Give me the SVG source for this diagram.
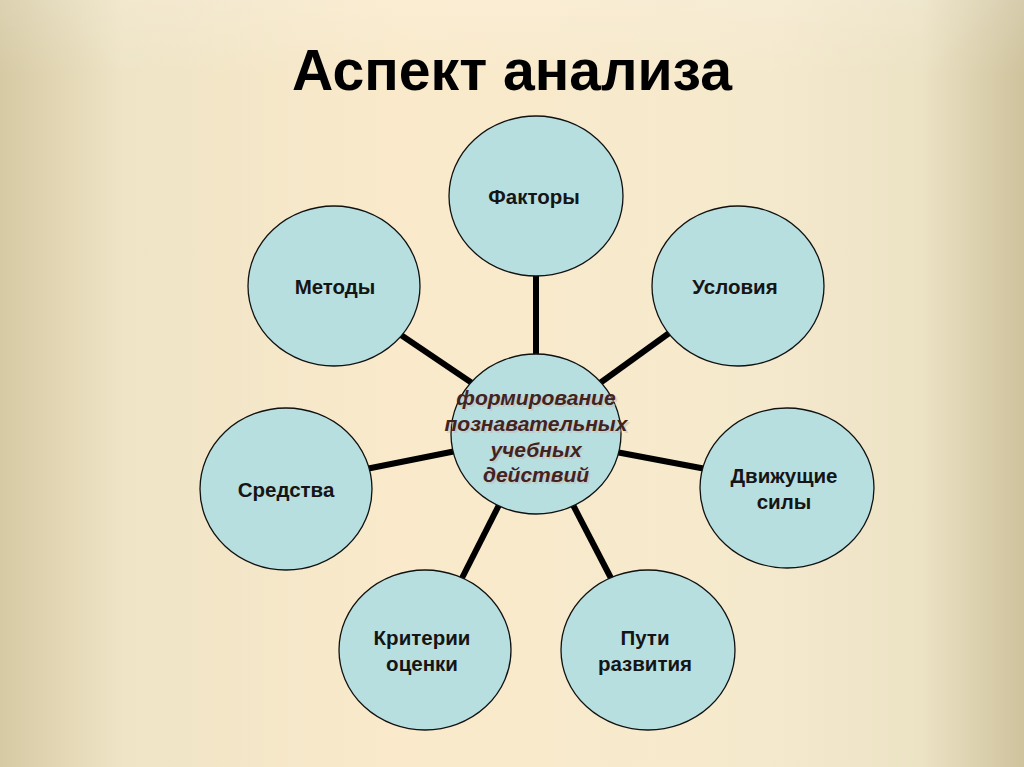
<svg xmlns="http://www.w3.org/2000/svg" width="1024" height="767" viewBox="0 0 1024 767">
<defs>
<linearGradient id="bg" x1="0" y1="0" x2="1" y2="0">
<stop offset="0" stop-color="#d6caa4"/>
<stop offset="0.12" stop-color="#efe4c6"/>
<stop offset="0.4" stop-color="#faeacb"/>
<stop offset="0.75" stop-color="#f5e9cd"/>
<stop offset="0.9" stop-color="#ece2c4"/>
<stop offset="1" stop-color="#cfc39d"/>
</linearGradient>
<linearGradient id="bgv" x1="0" y1="0" x2="0" y2="1">
<stop offset="0" stop-color="#ffffff" stop-opacity="0.15"/>
<stop offset="0.1" stop-color="#ffffff" stop-opacity="0"/>
</linearGradient>
</defs>
<style>
.n{fill:#b8dfe0;stroke:#111;stroke-width:1.3}
.t{font-family:"Liberation Sans",Arial,sans-serif;font-weight:bold;font-size:20.5px;fill:#151515;text-anchor:middle}
.c{font-family:"Liberation Sans",Arial,sans-serif;font-weight:bold;font-style:italic;font-size:21px;fill:#432322;text-anchor:middle}
.cs{font-family:"Liberation Sans",Arial,sans-serif;font-weight:bold;font-style:italic;font-size:21px;fill:#c8b8b0;text-anchor:middle;opacity:0.5}
.e{stroke:#000;stroke-width:6;fill:none}
</style>
<rect width="1024" height="767" fill="url(#bg)"/>
<rect width="1024" height="767" fill="url(#bgv)"/>
<text x="512" y="90" font-family="Liberation Sans,Arial,sans-serif" font-weight="bold" font-size="58" text-anchor="middle" textLength="440" lengthAdjust="spacingAndGlyphs" fill="#000">Аспект анализа</text>
<g id="connectors">
<line class="e" x1="536" y1="270" x2="536" y2="360"/>
<line class="e" x1="672" y1="331" x2="600" y2="383"/>
<line class="e" x1="398" y1="333" x2="472" y2="383"/>
<line class="e" x1="366" y1="469" x2="456" y2="451"/>
<line class="e" x1="616" y1="452" x2="706" y2="469"/>
<line class="e" x1="460" y1="582" x2="500" y2="503"/>
<line class="e" x1="613" y1="582" x2="572" y2="503"/>
</g>
<g id="n-factors"><ellipse class="n" cx="536" cy="196" rx="87" ry="80"/><text class="t" x="534" y="204">Факторы</text></g>
<g id="n-conditions"><ellipse class="n" cx="738" cy="286" rx="86" ry="80"/><text class="t" x="735" y="294">Условия</text></g>
<g id="n-methods"><ellipse class="n" cx="334" cy="286" rx="86" ry="80"/><text class="t" x="335" y="294">Методы</text></g>
<g id="n-means"><ellipse class="n" cx="286" cy="489" rx="86" ry="81"/><text class="t" x="286" y="497">Средства</text></g>
<g id="n-forces"><ellipse class="n" cx="787" cy="488" rx="87" ry="80"/><text class="t" x="784" y="483">Движущие</text><text class="t" x="784" y="509">силы</text></g>
<g id="n-criteria"><ellipse class="n" cx="425" cy="650" rx="86" ry="80"/><text class="t" x="422" y="645">Критерии</text><text class="t" x="422" y="671">оценки</text></g>
<g id="n-paths"><ellipse class="n" cx="648" cy="650" rx="87" ry="80"/><text class="t" x="645" y="645">Пути</text><text class="t" x="645" y="671">развития</text></g>
<g id="n-center"><ellipse class="n" cx="536" cy="434" rx="85" ry="80"/>
<text class="cs" x="538" y="407">формирование</text>
<text class="cs" x="538" y="433">познавательных</text>
<text class="cs" x="538" y="459">учебных</text>
<text class="cs" x="538" y="484">действий</text>
<text class="c" x="536" y="405">формирование</text>
<text class="c" x="536" y="431">познавательных</text>
<text class="c" x="536" y="457">учебных</text>
<text class="c" x="536" y="482">действий</text>
</g>
</svg>
